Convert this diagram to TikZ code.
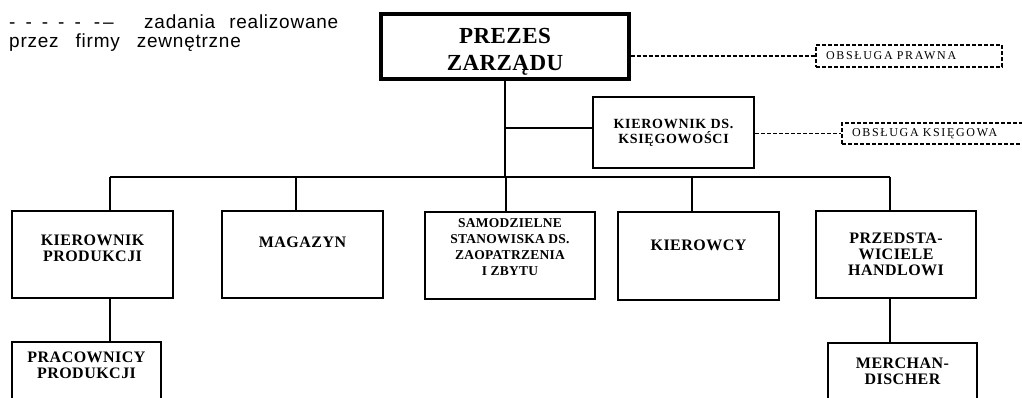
\documentclass[tikz,border=0pt]{standalone}
\usepackage{fontspec}
\setmainfont{Liberation Serif}
\newfontfamily\boxfont{Liberation Serif}[LetterSpace=3]
\newfontfamily\samfont{Liberation Serif}[LetterSpace=2]
\newfontfamily\headfont{Liberation Serif}[LetterSpace=2]
\newfontfamily\kdfont{Liberation Serif}[LetterSpace=5]
\newfontfamily\extfont{Liberation Serif}[LetterSpace=14]
\newfontfamily\legendfont{Liberation Sans}[LetterSpace=4]
\newcommand\padline[1]{\\[#1]\mbox{}}
\tikzset{
  orgbox/.style={draw, line width=2.2pt, align=center, inner sep=0pt,
    font=\boxfont\bfseries\fontsize{16}{16}\selectfont},
  headbox/.style={draw, line width=3.2pt, align=center, inner sep=0pt,
    font=\headfont\bfseries\fontsize{23}{27}\selectfont},
  extbox/.style={draw, line width=1.8pt, dash pattern=on 4pt off 2pt,
    align=left, inner xsep=10pt, inner ysep=0pt,
    font=\extfont\fontsize{12}{12}\selectfont},
  conn/.style={line width=1.2pt},
  busline/.style={line width=2pt},
  extline/.style={line width=1.8pt, dash pattern=on 4pt off 2pt},
  legendtext/.style={anchor=base west, inner sep=0pt,
    font=\legendfont\fontsize{19}{20}\selectfont}
}
\begin{document}
\begin{tikzpicture}[x=1pt,y=-1pt]
\useasboundingbox (0,0) rectangle (1022,397);

% legend
\node[legendtext] (legdash) at (9,28) {\spaceskip=10pt - - - - - \kern3pt -\kern3pt–};
\node[legendtext] (leg1) at (144,28) {\spaceskip=14pt zadania realizowane};
\node[legendtext] (leg2) at (9,47) {\spaceskip=17pt przez firmy zewnętrzne};

% top
\node[headbox, minimum width=248pt, minimum height=65pt] (prezes) at (505,46.5) {\rule{0pt}{25pt}PREZES\\ZARZĄDU};
\node[extbox, text width=166pt, minimum height=22pt] (prawna) at (909,56) {OBSŁUGA PRAWNA};
\node[orgbox, font=\kdfont\bfseries\fontsize{14}{15}\selectfont,
      minimum width=161pt, minimum height=71pt] (kier) at (673.5,132.5) {KIEROWNIK DS.\\KSIĘGOWOŚCI};
\node[extbox, text width=168pt, minimum height=21pt] (ksieg) at (936,133.5) {OBSŁUGA KSIĘGOWA};

% second level
\node[orgbox, minimum width=161pt, minimum height=87pt] (kp) at (92.5,254.5) {KIEROWNIK\\PRODUKCJI\padline{-3pt}};
\node[orgbox, minimum width=161pt, minimum height=87pt] (mag) at (302.5,254.5) {MAGAZYN\padline{9pt}};
\node[orgbox, font=\samfont\bfseries\fontsize{13.5}{16}\selectfont,
      minimum width=170pt, minimum height=87pt] (sam) at (510,255.5) {SAMODZIELNE\\STANOWISKA DS.\\ZAOPATRZENIA\\I ZBYTU\padline{0pt}};
\node[orgbox, minimum width=161pt, minimum height=88pt] (kc) at (698.5,256) {KIEROWCY\padline{6pt}};
\node[orgbox, minimum width=160pt, minimum height=87pt] (ph) at (896,254.5) {PRZEDSTA-\\WICIELE\\HANDLOWI};

% third level
\node[orgbox, minimum width=149pt, minimum height=88pt] (prac) at (86.5,386) {PRACOWNICY\\PRODUKCJI\padline{26pt}};
\node[orgbox, minimum width=149pt, minimum height=87pt] (merch) at (902.5,386.5) {MERCHAN-\\DISCHER\padline{15pt}};

% connectors
\coordinate (d1) at (110,177);
\coordinate (d2) at (296,177);
\coordinate (d3) at (506,177);
\coordinate (d4) at (692,177);
\coordinate (d5) at (890,177);
\coordinate (kj) at (506,128);

\draw[conn] (prezes.south) -- (prezes.south |- d3);
\draw[busline] (d1) -- (d5);
\draw[conn] (d1) -- (d1 |- kp.north);
\draw[conn] (d2) -- (d2 |- mag.north);
\draw[conn] (d3) -- (d3 |- sam.north);
\draw[busline] (d4) -- (d4 |- kc.north);
\draw[conn] (d5) -- (d5 |- ph.north);
\draw[conn] (kp.south -| d1) -- (prac.north -| d1);
\draw[conn] (ph.south -| d5) -- (merch.north -| d5);
\draw[conn] (kj) -- (kj -| kier.west);
\draw[extline] (prezes.east |- prawna.west) -- (prawna.west);
\draw[extline] (kier.east |- ksieg.west) -- (ksieg.west);
\end{tikzpicture}
\end{document}
